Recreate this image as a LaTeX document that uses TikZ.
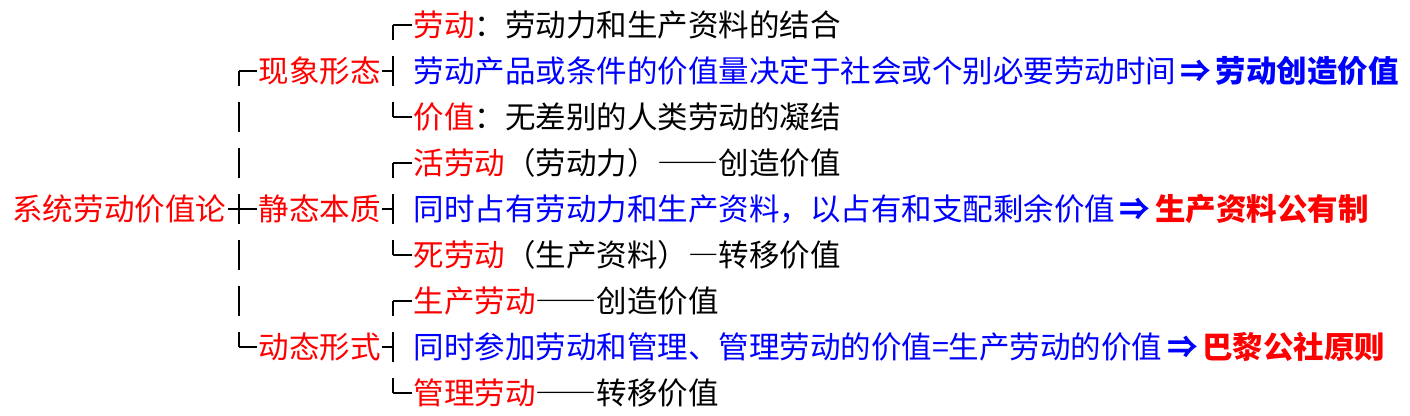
\documentclass[tikz,border=0pt]{standalone}
\usepackage{fontspec}
\setmainfont{Noto Sans CJK SC}
\newcommand{\fw}[1]{{\addfontfeature{RawFeature=+fwid}#1}}
\newcommand{\thus}{\makebox[40pt]{⇒}}
\begin{document}
\begin{tikzpicture}[x=1pt, y=-1pt,
  txt/.style={inner sep=0pt, outer sep=1.5pt, anchor=west, text height=26.8pt, text depth=3.7pt, font=\fontsize{30.5pt}{36pt}\selectfont},
  link/.style={line width=1.2pt, black},
  bar/.style={dash pattern=on 30pt off 16pt, dash phase=15pt}]
\useasboundingbox (0,0) rectangle (1410,415);
\node[txt, red] (sys) at (11,209){系统劳动价值论};
\node[txt, red] (grp1) at (257,71){现象形态};
\node[txt, red] (grp2) at (257,209){静态本质};
\node[txt, red] (grp3) at (257,347){动态形式};
\node[txt] (leaf1) at (412,25){\textcolor{red}{劳动}：劳动力和生产资料的结合};
\node[txt, blue] (leaf2) at (412,71){劳动产品或条件的价值量决定于社会或个别必要劳动时间\textbf{\thus 劳动创造价值}};
\node[txt] (leaf3) at (412,117){\textcolor{red}{价值}：无差别的人类劳动的凝结};
\node[txt] (leaf4) at (412,163){\textcolor{red}{活劳动}（劳动力）\fw{——}创造价值};
\node[txt, blue] (leaf5) at (412,209){同时占有劳动力和生产资料，以占有和支配剩余价值\textbf{\thus\textcolor{red}{生产资料公有制}}};
\node[txt] (leaf6) at (412,255){\textcolor{red}{死劳动}（生产资料）\fw{—}转移价值};
\node[txt] (leaf7) at (412,301){\textcolor{red}{生产劳动}\fw{——}创造价值};
\node[txt, blue] (leaf8) at (412,347){同时参加劳动和管理、管理劳动的价值=生产劳动的价值\textbf{\thus\textcolor{red}{巴黎公社原则}}};
\node[txt] (leaf9) at (412,393){\textcolor{red}{管理劳动}\fw{——}转移价值};
\coordinate (bus) at (239,0);
\coordinate (fork) at (393,0);
\draw[link] (sys) -- (grp2);
\draw[link] (grp1.west) -- (grp1.west -| bus);
\draw[link] (grp3.west) -- (grp3.west -| bus);
\draw[link, bar] (grp1.west -| bus) -- (grp3.west -| bus);
\draw[link] (grp1.east) -- (grp1.east -| fork);
\draw[link] (leaf1.west) -- (leaf1.west -| fork);
\draw[link] (leaf3.west) -- (leaf3.west -| fork);
\draw[link, bar] (leaf1.west -| fork) -- (leaf3.west -| fork);
\draw[link] (grp2.east) -- (grp2.east -| fork);
\draw[link] (leaf4.west) -- (leaf4.west -| fork);
\draw[link] (leaf6.west) -- (leaf6.west -| fork);
\draw[link, bar] (leaf4.west -| fork) -- (leaf6.west -| fork);
\draw[link] (grp3.east) -- (grp3.east -| fork);
\draw[link] (leaf7.west) -- (leaf7.west -| fork);
\draw[link] (leaf9.west) -- (leaf9.west -| fork);
\draw[link, bar] (leaf7.west -| fork) -- (leaf9.west -| fork);
\end{tikzpicture}
\end{document}
